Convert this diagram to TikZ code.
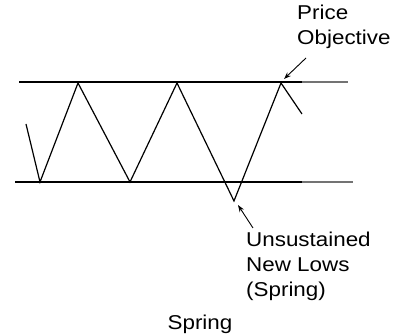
\documentclass[tikz,border=0pt]{standalone}
\usepackage{fontspec}
\setmainfont[FakeStretch=1.12]{Liberation Sans}
\usepackage{tikz}
\usetikzlibrary{arrows.meta,positioning}

\begin{document}
\begin{tikzpicture}[
			x=1pt,y=-1pt,
			level/.style={line width=1.3pt},
			levelfade/.style={line width=1.1pt,black!55},
			price/.style={line width=1.2pt,line join=miter},
			lbl/.style={font=\fontsize{20}{25}\selectfont,inner sep=0pt,align=left},
			arrow/.style={-{Stealth[length=7pt,width=5pt]},line width=0.9pt}
			]
			\useasboundingbox (0,0) rectangle (397,336);
			% trading range
			\draw[level] (19,82)--(302,82);
			\draw[levelfade] (302,82)--(348,82);
			\draw[level] (15,182)--(302,182);
			\draw[levelfade] (302,182)--(353,182);
			% price swings
			\coordinate (s0) at (26,124);
			\coordinate (l1) at (40,182);
			\coordinate (h1) at (78,83);
			\coordinate (l2) at (130,182);
			\coordinate (h2) at (177,83);
			\coordinate (spring) at (234,201);
			\coordinate (h3) at (281,83);
			\coordinate (s1) at (302,114);
			\draw[price] (s0)--(l1)--(h1)--(l2)--(h2)--(spring)--(h3)--(s1);
			% labels (base = last line)
			\node[lbl,anchor=base west] (objective) at (297,45) {Price\\Objective};
			\node[lbl,anchor=base west] (lows) at (246,297) {Unsustained\\New Lows\\(Spring)};
			\node[lbl,anchor=base] (title) at (200,330) {Spring};
			\coordinate (objtail) at (306,58);
			\coordinate (objtip) at (284,79);
			\coordinate (lowtail) at (253,228);
			\coordinate (lowtip) at (238,205);
			\draw[arrow] (objtail)--(objtip);
			\draw[arrow] (lowtail)--(lowtip);
		\end{tikzpicture}
\end{document}
